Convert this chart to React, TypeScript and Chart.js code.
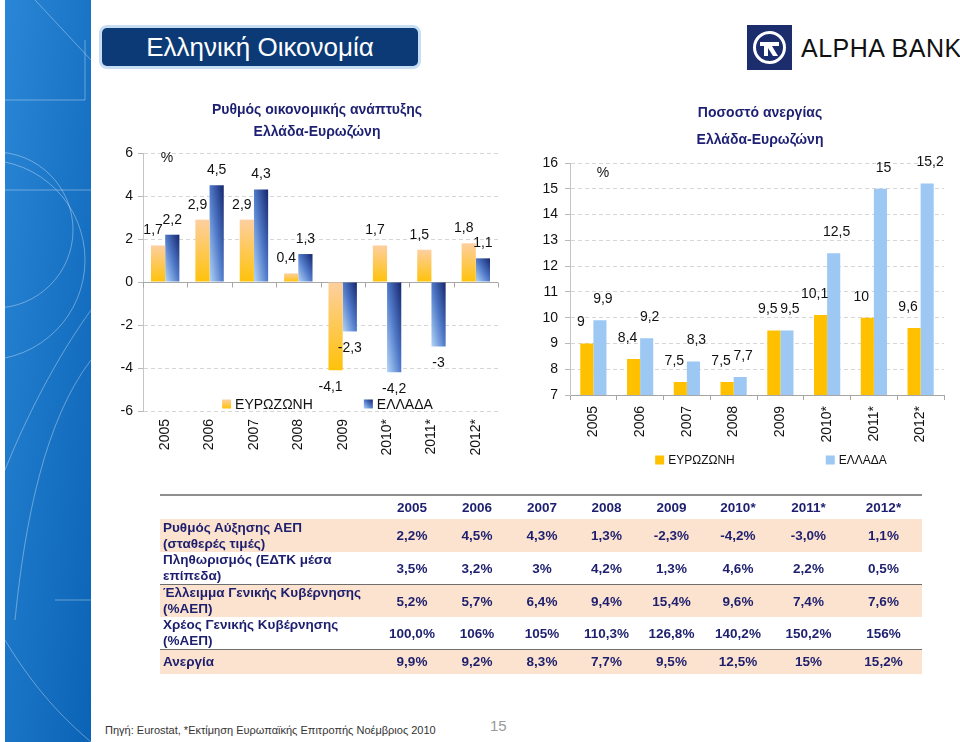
import React, { useEffect, useRef } from "react";
import { Chart, registerables } from "chart.js";

Chart.register(...registerables);

const FONT = '"Liberation Sans", Arial, Helvetica, sans-serif';

// ---------- data ----------
const years = ["2005", "2006", "2007", "2008", "2009", "2010*", "2011*", "2012*"];
const seriesNames = ["ΕΥΡΩΖΩΝΗ", "ΕΛΛΑΔΑ"];

const gdpTitle = ["Ρυθμός οικονομικής ανάπτυξης", "Ελλάδα-Ευρωζώνη"];
const gdpEurozone = [1.7, 2.9, 2.9, 0.4, -4.1, 1.7, 1.5, 1.8];
const gdpGreece = [2.2, 4.5, 4.3, 1.3, -2.3, -4.2, -3, 1.1];

const unempTitle = ["Ποσοστό ανεργίας", "Ελλάδα-Ευρωζώνη"];
const unempEurozone = [9, 8.4, 7.5, 7.5, 9.5, 10.1, 10, 9.6];
const unempGreece = [9.9, 9.2, 8.3, 7.7, 9.5, 12.5, 15, 15.2];

const tableRowLabels = [
  ["Ρυθμός Αύξησης ΑΕΠ", "(σταθερές τιμές)"],
  ["Πληθωρισμός (ΕΔΤΚ μέσα", "επίπεδα)"],
  ["Έλλειμμα Γενικής Κυβέρνησης", "(%ΑΕΠ)"],
  ["Χρέος Γενικής Κυβέρνησης", "(%ΑΕΠ)"],
  ["Ανεργία"],
];
const tableGdp = ["2,2%", "4,5%", "4,3%", "1,3%", "-2,3%", "-4,2%", "-3,0%", "1,1%"];
const tableInflation = ["3,5%", "3,2%", "3%", "4,2%", "1,3%", "4,6%", "2,2%", "0,5%"];
const tableDeficit = ["5,2%", "5,7%", "6,4%", "9,4%", "15,4%", "9,6%", "7,4%", "7,6%"];
const tableDebt = ["100,0%", "106%", "105%", "110,3%", "126,8%", "140,2%", "150,2%", "156%"];
const tableUnemployment = ["9,9%", "9,2%", "8,3%", "7,7%", "9,5%", "12,5%", "15%", "15,2%"];
const tableRows = [tableGdp, tableInflation, tableDeficit, tableDebt, tableUnemployment];

const slideTitle = "Ελληνική Οικονομία";
const sourceNote = "Πηγή: Eurostat, *Εκτίμηση Ευρωπαϊκής Επιτροπής Νοέμβριος 2010";
const pageNumber = "15";

// ---------- helpers ----------
const fmt = (v: number) => String(v).replace(".", ",");

const GDP_CAT = 0.64;
const UNEMP_CAT = 0.56;

function barRect(c: any, catPct: number) {
  const chart = c.chart;
  const xs = chart.scales.x;
  const ys = chart.scales.y;
  const n = chart.data.labels.length;
  const catW = (xs.right - xs.left) / n;
  const bw = (catW * catPct) / 2;
  const cx = xs.getPixelForValue(c.dataIndex);
  const x0 = cx - bw + c.datasetIndex * bw;
  const v = c.raw as number;
  const p0 = ys.getPixelForValue(0);
  const p1 = ys.getPixelForValue(v);
  return { x0, x1: x0 + bw, top: Math.min(p0, p1), bot: Math.max(p0, p1) };
}

function orangeFill(c: any) {
  if (c.type !== "data" || !c.chart.chartArea) return "#FFC000";
  const r = barRect(c, GDP_CAT);
  const g = c.chart.ctx.createLinearGradient(0, r.top, 0, r.bot + 0.01);
  g.addColorStop(0, "#FDCFA0");
  g.addColorStop(1, "#FFC20A");
  return g;
}

function blueDiag(ctx: CanvasRenderingContext2D, x0: number, x1: number, top: number, bot: number) {
  const w = Math.max(x1 - x0, 0.5);
  const h = Math.max(bot - top, 0.5);
  const k = (2 * w * h) / (h * h + w * w);
  const g = ctx.createLinearGradient(x0, bot, x0 + h * k, bot - w * k);
  g.addColorStop(0, "#B3D6F9");
  g.addColorStop(0.5, "#4F79C8");
  g.addColorStop(1, "#16256C");
  return g;
}

function blueFill(c: any) {
  if (c.type !== "data" || !c.chart.chartArea) return "#3458A8";
  const r = barRect(c, GDP_CAT);
  return blueDiag(c.chart.ctx, r.x0, r.x1, r.top, r.bot);
}

function drawValueLabels(chart: any, gapUp: number, gapDown: number, shifts: number[]) {
  const ctx = chart.ctx;
  ctx.save();
  ctx.font = `14px ${FONT}`;
  ctx.fillStyle = "#111";
  ctx.textAlign = "center";
  chart.data.datasets.forEach((ds: any, di: number) => {
    const meta = chart.getDatasetMeta(di);
    meta.data.forEach((el: any, i: number) => {
      const v = ds.data[i] as number;
      const txt = fmt(v);
      const x = el.x + (shifts[di] || 0);
      if (el.y <= el.base) {
        ctx.textBaseline = "bottom";
        ctx.fillText(txt, x, el.y - gapUp);
      } else {
        ctx.textBaseline = "top";
        ctx.fillText(txt, x, el.y + gapDown);
      }
    });
  });
  ctx.restore();
}

function drawLegend(
  chart: any,
  cy: number,
  shift: number,
  gap: number,
  size: number,
  fill: (ctx: CanvasRenderingContext2D, i: number, x: number, y: number, s: number) => any
) {
  const ctx = chart.ctx;
  const a = chart.chartArea;
  ctx.save();
  ctx.font = `${size}px ${FONT}`;
  const sq = 9;
  const tg = 4;
  const names = chart.data.datasets.map((d: any) => d.label as string);
  const widths = names.map((n: string) => sq + tg + ctx.measureText(n).width);
  const total = widths.reduce((s: number, w: number) => s + w, 0) + gap * (names.length - 1);
  let x = (a.left + a.right) / 2 + shift - total / 2;
  names.forEach((n: string, i: number) => {
    ctx.fillStyle = fill(ctx, i, x, cy - sq / 2, sq);
    ctx.fillRect(x, cy - sq / 2, sq, sq);
    ctx.fillStyle = "#111";
    ctx.textAlign = "left";
    ctx.textBaseline = "middle";
    ctx.fillText(n, x + sq + tg, cy + 1);
    x += widths[i] + gap;
  });
  ctx.restore();
}

function drawPercent(chart: any, dx: number, dy: number) {
  const ctx = chart.ctx;
  const a = chart.chartArea;
  ctx.save();
  ctx.font = `14px ${FONT}`;
  ctx.fillStyle = "#111";
  ctx.textAlign = "center";
  ctx.textBaseline = "middle";
  ctx.fillText("%", a.left + dx, a.top + dy);
  ctx.restore();
}

// invisible right-hand spacer axis so the (full-width) title centres like the original
const spacerAxis = (w: number) => ({
  type: "linear" as const,
  position: "right" as const,
  display: true,
  grid: { display: false, drawTicks: false },
  border: { display: false },
  ticks: { display: false },
  afterFit: (s: any) => {
    s.width = w;
  },
});

// ---------- GDP chart ----------
function GdpChart() {
  const ref = useRef<HTMLCanvasElement>(null);
  useEffect(() => {
    const canvas = ref.current!;
    const decor = {
      id: "gdpDecor",
      beforeDatasetsDraw(chart: any) {
        const { ctx, chartArea: a, scales } = chart;
        const y0 = Math.round(scales.y.getPixelForValue(0)) + 0.5;
        ctx.save();
        ctx.strokeStyle = "#a8a8a8";
        ctx.lineWidth = 1;
        ctx.beginPath();
        ctx.moveTo(a.left, y0);
        ctx.lineTo(a.right, y0);
        const n = chart.data.labels.length;
        for (let i = 0; i <= n; i++) {
          const x = Math.round(a.left + ((a.right - a.left) * i) / n) + 0.5;
          ctx.moveTo(x, y0);
          ctx.lineTo(x, y0 + 5);
        }
        ctx.stroke();
        ctx.restore();
      },
      afterDatasetsDraw(chart: any) {
        drawValueLabels(chart, 8, 10, [-5, 0]);
        drawPercent(chart, 24, 5);
        drawLegend(chart, chart.chartArea.bottom - 7, 7, 51, 14, (ctx, i, x, y, s) => {
          if (i === 0) {
            const g = ctx.createLinearGradient(0, y, 0, y + s);
            g.addColorStop(0, "#FDCFA0");
            g.addColorStop(1, "#FFC20A");
            return g;
          }
          return blueDiag(ctx, x, x + s, y, y + s);
        });
      },
    };
    const chart = new Chart(canvas, {
      type: "bar",
      data: {
        labels: years,
        datasets: [
          { label: seriesNames[0], data: gdpEurozone, backgroundColor: orangeFill as any },
          { label: seriesNames[1], data: gdpGreece, backgroundColor: blueFill as any },
        ],
      },
      options: {
        responsive: false,
        animation: false,
        datasets: { bar: { categoryPercentage: GDP_CAT, barPercentage: 1 } },
        layout: { padding: 0 },
        plugins: {
          legend: { display: false },
          tooltip: { enabled: false },
          title: {
            display: true,
            text: gdpTitle,
            color: "#1d1f72",
            font: { family: FONT, size: 14, weight: "bold", lineHeight: "22px" } as any,
            padding: { top: 4, bottom: 10 },
          },
        },
        scales: {
          x: {
            grid: { display: false, drawTicks: false },
            border: { display: false },
            ticks: {
              font: { family: FONT, size: 14 },
              color: "#111",
              maxRotation: 90,
              minRotation: 90,
              padding: 8,
              autoSkip: false,
            },
            afterFit: (s: any) => {
              s.height = 64;
            },
          },
          y: {
            min: -6,
            max: 6,
            ticks: { stepSize: 2, font: { family: FONT, size: 14 }, color: "#111", padding: 5 },
            grid: { color: "#d6d6d6", tickColor: "#b8b8b8", tickLength: 5 },
            border: { display: true, color: "#c4c4c4", dash: [4, 3] },
            afterFit: (s: any) => {
              s.width = 45;
            },
          },
          y2: spacerAxis(38) as any,
        },
      },
      plugins: [decor],
    });
    return () => chart.destroy();
  }, []);
  return (
    <canvas
      ref={ref}
      width={438}
      height={380}
      style={{ position: "absolute", left: 98, top: 95, width: 438, height: 380 }}
    />
  );
}

// ---------- Unemployment chart ----------
function UnempChart() {
  const ref = useRef<HTMLCanvasElement>(null);
  useEffect(() => {
    const canvas = ref.current!;
    const decor = {
      id: "unempDecor",
      afterDatasetsDraw(chart: any) {
        drawValueLabels(chart, 14, 10, [-6, 3]);
        drawPercent(chart, 33, 10);
        drawLegend(chart, chart.chartArea.bottom + 65, 14, 91, 12, (_ctx, i) =>
          i === 0 ? "#FFC000" : "#9DC8F3"
        );
      },
    };
    const chart = new Chart(canvas, {
      type: "bar",
      data: {
        labels: years,
        datasets: [
          { label: seriesNames[0], data: unempEurozone, backgroundColor: "#FFC000" },
          { label: seriesNames[1], data: unempGreece, backgroundColor: "#9DC8F3" },
        ],
      },
      options: {
        responsive: false,
        animation: false,
        datasets: { bar: { categoryPercentage: UNEMP_CAT, barPercentage: 1 } },
        layout: { padding: 0 },
        plugins: {
          legend: { display: false },
          tooltip: { enabled: false },
          title: {
            display: true,
            text: unempTitle,
            color: "#1d1f72",
            font: { family: FONT, size: 14, weight: "bold", lineHeight: "27px" } as any,
            padding: { top: 5, bottom: 9 },
          },
        },
        scales: {
          x: {
            grid: { display: true, drawOnChartArea: false, drawTicks: true, tickLength: 5, color: "#a6a6a6" },
            border: { display: true, color: "#a6a6a6" },
            ticks: {
              font: { family: FONT, size: 14 },
              color: "#111",
              maxRotation: 90,
              minRotation: 90,
              padding: 6,
              autoSkip: false,
            },
            afterFit: (s: any) => {
              s.height = 100;
            },
          },
          y: {
            min: 7,
            max: 16,
            ticks: { stepSize: 1, font: { family: FONT, size: 14 }, color: "#111", padding: 7, autoSkip: false },
            grid: { color: "#d6d6d6", tickColor: "#b8b8b8", tickLength: 5 },
            border: { display: true, color: "#c4c4c4", dash: [4, 3] },
            afterFit: (s: any) => {
              s.width = 55;
            },
          },
          y2: spacerAxis(61) as any,
        },
      },
      plugins: [decor],
    });
    return () => chart.destroy();
  }, []);
  return (
    <canvas
      ref={ref}
      width={490}
      height={400}
      style={{ position: "absolute", left: 515, top: 95, width: 490, height: 400 }}
    />
  );
}

// ---------- table ----------
const colWidths = [220, 64, 66, 64, 65, 65, 68, 73, 77];
const rowHeights = [33, 32, 32, 31, 24];
const PEACH = "#FBE3CF";

function DataTable() {
  return (
    <table
      style={{
        position: "absolute",
        left: 160,
        top: 494,
        width: 762,
        borderCollapse: "collapse",
        tableLayout: "fixed",
        fontFamily: FONT,
        fontWeight: "bold",
        fontSize: 13.5,
        color: "#1d1f6e",
      }}
    >
      <colgroup>
        {colWidths.map((w, i) => (
          <col key={i} style={{ width: w }} />
        ))}
      </colgroup>
      <tbody>
        <tr style={{ height: 24, borderTop: "2px solid #8e8e8e" }}>
          <td style={{ padding: 0 }} />
          {years.map((y) => (
            <td key={y} style={{ padding: 0, textAlign: "center", verticalAlign: "middle" }}>
              {y}
            </td>
          ))}
        </tr>
        {tableRows.map((row, ri) => (
          <tr
            key={ri}
            style={{
              height: rowHeights[ri],
              background: ri % 2 === 0 ? PEACH : "#fff",
              borderTop: ri === 2 || ri === 4 ? "1.5px solid #6e6e6e" : "none",
            }}
          >
            <td style={{ padding: "0 0 0 3px", lineHeight: "16px", verticalAlign: "middle", whiteSpace: "nowrap" }}>
              {tableRowLabels[ri].map((l, li) => (
                <div key={li}>{l}</div>
              ))}
            </td>
            {row.map((v, ci) => (
              <td key={ci} style={{ padding: 0, textAlign: "center", verticalAlign: "middle" }}>
                {v}
              </td>
            ))}
          </tr>
        ))}
      </tbody>
    </table>
  );
}

// ---------- decorations ----------
function SideStrip() {
  return (
    <svg
      width={86}
      height={742}
      style={{ position: "absolute", left: 5, top: 0 }}
      viewBox="0 0 86 742"
    >
      <defs>
        <linearGradient id="stripG" x1="0" y1="0" x2="1" y2="1">
          <stop offset="0" stopColor="#2a86d6" />
          <stop offset="1" stopColor="#0b63b5" />
        </linearGradient>
      </defs>
      <rect x={0} y={0} width={86} height={742} fill="url(#stripG)" />
      <g fill="none" stroke="#ffffff" strokeOpacity={0.35} strokeWidth={1}>
        <circle cx={-10} cy={230} r={78} />
        <circle cx={-20} cy={260} r={100} />
        <path d="M0 100 L80 100 L80 40" />
        <path d="M0 190 L86 190" />
        <path d="M86 310 C 50 360, 20 420, 0 470" />
        <path d="M86 360 C 40 420, 20 520, 10 620" />
        <path d="M50 600 L86 600" />
        <path d="M0 640 C 30 690, 60 720, 86 742" />
        <path d="M30 0 L86 60" />
      </g>
    </svg>
  );
}

function Logo() {
  return (
    <>
      <svg width={45} height={45} style={{ position: "absolute", left: 747, top: 25 }} viewBox="0 0 45 45">
        <rect width={45} height={45} fill="#1b2d6c" />
        <circle cx={22.5} cy={22.5} r={15} fill="none" stroke="#fff" strokeWidth={3} />
        <path d="M13 17 L32 17 L32 21 L25 21 L31 31 L26 31 L21 23 L21 31 L17 31 L17 21 L13 21 Z" fill="#fff" />
      </svg>
      <div
        style={{
          position: "absolute",
          left: 801,
          top: 33,
          fontFamily: FONT,
          fontSize: 25,
          color: "#111",
          letterSpacing: 0.5,
          lineHeight: "30px",
          whiteSpace: "nowrap",
        }}
      >
        ALPHA BANK
      </div>
    </>
  );
}

export default function App() {
  return (
    <div
      style={{
        position: "absolute",
        left: 0,
        top: 0,
        width: 960,
        height: 742,
        overflow: "hidden",
        background: "#fff",
        fontFamily: FONT,
      }}
    >
      <SideStrip />
      <div
        style={{
          position: "absolute",
          left: 102,
          top: 28,
          width: 316,
          height: 38,
          background: "#0b3a76",
          borderRadius: 5,
          boxShadow: "0 0 0 3px #c7ddf3",
          color: "#fff",
          fontSize: 26,
          lineHeight: "38px",
          textAlign: "center",
          whiteSpace: "nowrap",
        }}
      >
        {slideTitle}
      </div>
      <Logo />
      <GdpChart />
      <UnempChart />
      <DataTable />
      <div
        style={{
          position: "absolute",
          left: 105,
          top: 724,
          fontSize: 11,
          color: "#333",
          whiteSpace: "nowrap",
        }}
      >
        {sourceNote}
      </div>
      <div style={{ position: "absolute", left: 490, top: 717, fontSize: 15, color: "#9a9a9a" }}>{pageNumber}</div>
    </div>
  );
}
